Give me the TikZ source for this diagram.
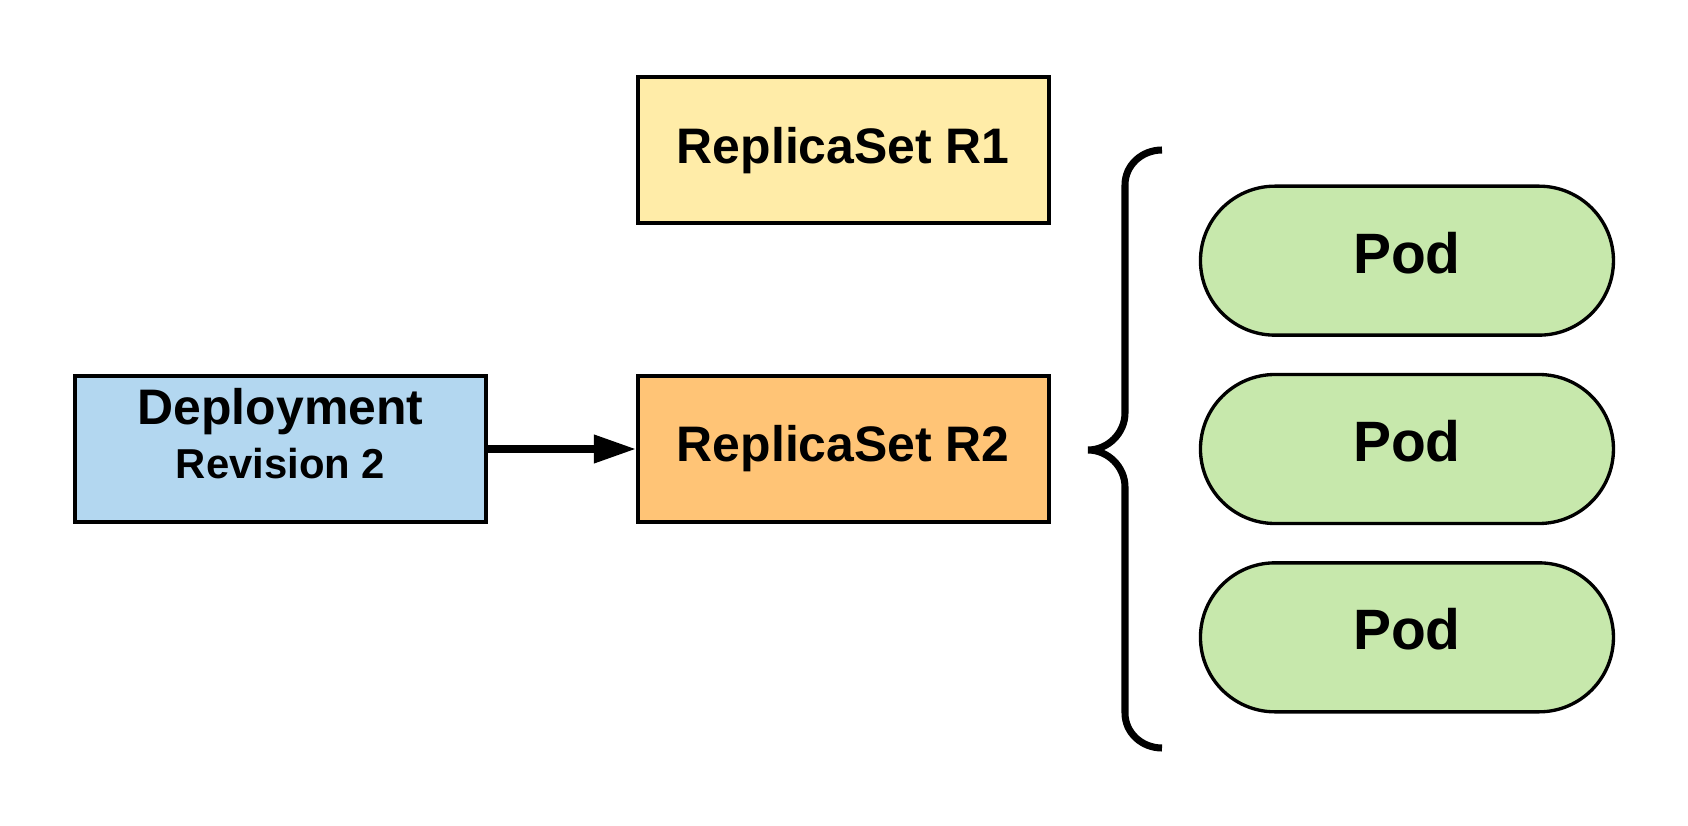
\documentclass[tikz,border=0pt]{standalone}
\usepackage{fontspec}
\setmainfont{Liberation Sans}
\usetikzlibrary{positioning,arrows.meta,shapes.misc}
\definecolor{depblue}{RGB}{179,215,240}
\definecolor{rsyellow}{RGB}{255,236,168}
\definecolor{rsorange}{RGB}{255,196,118}
\definecolor{podgreen}{RGB}{199,232,172}

\begin{document}
\begin{tikzpicture}[box/.style={draw,line width=1.1pt,inner sep=0pt,minimum width=4.11cm,minimum height=1.46cm,font=\fontsize{14.2}{17}\selectfont\bfseries},
    pod/.style={draw,rounded rectangle,fill=podgreen,line width=0.95pt,inner sep=0pt,minimum width=4.13cm,minimum height=1.49cm,text depth=0.16cm,font=\fontsize{16.2}{19}\selectfont\bfseries},
    brace/.style={line width=2pt}]
                \useasboundingbox (0,0) rectangle (16.88,8.25);
                \node[box,fill=depblue,align=center,text depth=0.32cm] (dep) at (2.805,3.76) {Deployment\\[-1.6pt]{\fontsize{11.9}{14}\selectfont Revision 2}};
                \node[box,fill=rsorange,right=1.48cm of dep] (r2) {ReplicaSet R2};
                \node[box,fill=rsyellow,above=1.49cm of r2] (r1) {ReplicaSet R1};
                \node[pod,right=1.48cm of r2] (pod2) {Pod};
                \node[pod,above=0.36cm of pod2] (pod1) {Pod};
                \node[pod,below=0.36cm of pod2] (pod3) {Pod};
                \draw[line width=2pt,-{Triangle[length=4.2mm,width=2.7mm]}] (dep) -- (r2);
                \draw[brace] (11.62,6.75) .. controls (11.42,6.75) and (11.25,6.60) .. (11.25,6.40) -- (11.25,4.12)
                    .. controls (11.25,3.92) and (11.08,3.75) .. (10.88,3.75)
                    .. controls (11.08,3.75) and (11.25,3.58) .. (11.25,3.38) -- (11.25,1.12)
                    .. controls (11.25,0.92) and (11.42,0.77) .. (11.62,0.77);
            \end{tikzpicture}
\end{document}
